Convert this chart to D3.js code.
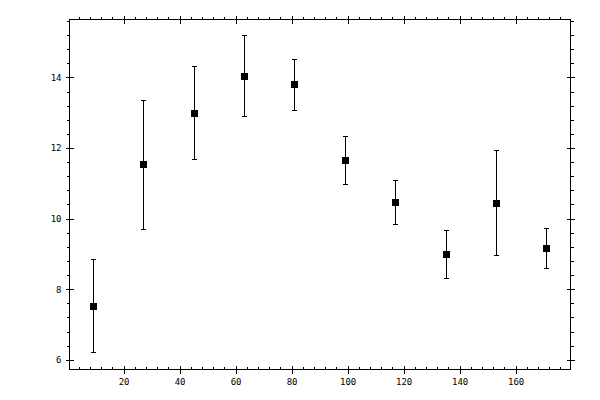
<!DOCTYPE html>
<html>
<head>
<meta charset="utf-8">
<script src="https://d3js.org/d3.v7.min.js"></script>
<style>
  body { margin: 0; background: #fff; }
  .axis text { font-family: "DejaVu Sans Mono", monospace; font-size: 9px; fill: #000; }
  .axis line { stroke: #000; shape-rendering: crispEdges; }
</style>
</head>
<body>
<script>
// bin centers and measured values (mean, upper and lower error)
var xs     = [9, 27, 45, 63, 81, 99, 117, 135, 153, 171];
var means  = [7.53, 11.54, 12.98, 14.03, 13.80, 11.65, 10.47, 9.00, 10.44, 9.17];
var upper  = [8.86, 13.35, 14.31, 15.19, 14.51, 12.33, 11.09, 9.67, 11.94, 9.73];
var lower  = [6.21, 9.70, 11.68, 12.90, 13.07, 10.98, 9.84, 8.32, 8.97, 8.60];

var xMajor = [20, 40, 60, 80, 100, 120, 140, 160];
var yMajor = [6, 8, 10, 12, 14];

var data = xs.map(function(x, i){
  return { x: x, y: means[i], hi: upper[i], lo: lower[i] };
});

var w = 600;
var h = 400;
// plot box edges (half pixels for crisp 1px lines)
var boxL = 69.5, boxR = 570.5, boxT = 19.5, boxB = 369.5;

var svg = d3.select('body').append('svg')
            .attr('width', w)
            .attr('height', h);

var ScaleX = d3.scaleLinear()
               .domain([0.7, 179.6])
               .range([boxL, boxR]);

var ScaleY = d3.scaleLinear()
               .domain([5.726, 15.64])
               .range([boxB, boxT]);

// minor ticks every 4 on x, every 0.4 on y
var xMinor = d3.range(4, 180, 4).filter(function(v){
  return xMajor.indexOf(v) < 0 && v <= 179.6;
});
var yMinor = d3.range(0, 40).map(function(i){ return +(i * 0.4).toFixed(1); })
               .filter(function(v){
                 return v >= 5.726 && v <= 15.64 && yMajor.indexOf(v) < 0;
               });

function addAxis(axis, tx, ty){
  var g = svg.append('g')
             .attr('class', 'axis')
             .attr('transform', 'translate(' + tx + ',' + ty + ')')
             .call(axis);
  g.select('.domain').remove();
  return g;
}

// bottom
addAxis(d3.axisBottom(ScaleX).tickValues(xMinor).tickSize(-3).tickFormat(''), 0, boxB);
var gb = addAxis(d3.axisBottom(ScaleX).tickValues(xMajor).tickSize(4), 0, boxB);
gb.selectAll('line').attr('y1', -4).attr('y2', 4);
gb.selectAll('text').attr('y', 9).attr('dy', '0.71em');

// top
addAxis(d3.axisTop(ScaleX).tickValues(xMinor).tickSize(3).tickFormat(''), 0, boxT);
var gt = addAxis(d3.axisTop(ScaleX).tickValues(xMajor).tickSize(4).tickFormat(''), 0, boxT);
gt.selectAll('line').attr('y1', 4).attr('y2', -4);

// left
addAxis(d3.axisLeft(ScaleY).tickValues(yMinor).tickSize(3).tickFormat(''), boxL, 0);
var gl = addAxis(d3.axisLeft(ScaleY).tickValues(yMajor).tickSize(4), boxL, 0);
gl.selectAll('line').attr('x1', 4).attr('x2', -4);
gl.selectAll('text').attr('x', -8);

// right
addAxis(d3.axisRight(ScaleY).tickValues(yMinor).tickSize(3).tickFormat(''), boxR, 0);
var gr = addAxis(d3.axisRight(ScaleY).tickValues(yMajor).tickSize(4).tickFormat(''), boxR, 0);
gr.selectAll('line').attr('x1', -4).attr('x2', 4);

// frame
svg.append('rect')
   .attr('x', boxL)
   .attr('y', boxT)
   .attr('width', boxR - boxL)
   .attr('height', boxB - boxT)
   .attr('fill', 'none')
   .attr('stroke', '#000')
   .attr('shape-rendering', 'crispEdges');

// error bars
var bars = svg.append('g')
              .attr('stroke', '#000')
              .attr('shape-rendering', 'crispEdges');

bars.selectAll('line.v')
    .data(data)
    .enter()
    .append('line')
    .attr('class', 'v')
    .attr('x1', function(d){ return Math.round(ScaleX(d.x)) + 0.5; })
    .attr('x2', function(d){ return Math.round(ScaleX(d.x)) + 0.5; })
    .attr('y1', function(d){ return ScaleY(d.hi); })
    .attr('y2', function(d){ return ScaleY(d.lo); });

['hi', 'lo'].forEach(function(k){
  bars.selectAll('line.' + k)
      .data(data)
      .enter()
      .append('line')
      .attr('class', k)
      .attr('x1', function(d){ return Math.round(ScaleX(d.x)) - 2; })
      .attr('x2', function(d){ return Math.round(ScaleX(d.x)) + 3; })
      .attr('y1', function(d){ return Math.round(ScaleY(d[k])) + 0.5; })
      .attr('y2', function(d){ return Math.round(ScaleY(d[k])) + 0.5; });
});

// markers
svg.selectAll('rect.pt')
   .data(data)
   .enter()
   .append('rect')
   .attr('class', 'pt')
   .attr('x', function(d){ return Math.round(ScaleX(d.x)) - 3; })
   .attr('y', function(d){ return Math.round(ScaleY(d.y)) - 3; })
   .attr('width', 7)
   .attr('height', 7)
   .attr('fill', '#000')
   .attr('shape-rendering', 'crispEdges');
</script>
</body>
</html>
